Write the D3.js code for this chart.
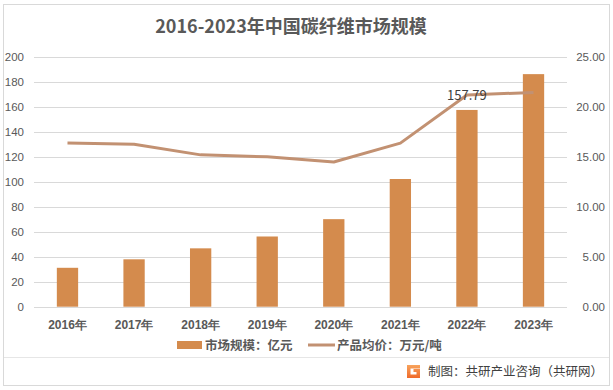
<!DOCTYPE html>
<html><head><meta charset="utf-8">
<script src="https://cdn.jsdelivr.net/npm/d3@7"></script>
<style>
html,body{margin:0;padding:0;background:#fff;}
svg{display:block;font-family:"Noto Sans CJK SC","Noto Sans",sans-serif;}
</style></head>
<body>
<svg id="c" width="613" height="390"></svg>
<script>
const title = "2016-2023年中国碳纤维市场规模";
const categories = ["2016年","2017年","2018年","2019年","2020年","2021年","2022年","2023年"];
const marketSize = [31.2, 38.0, 46.8, 56.3, 70.2, 102.4, 157.79, 186.5];
const avgPrice = [16.4, 16.28, 15.22, 15.02, 14.5, 16.4, 21.22, 21.48];
const leftTicks = [0,20,40,60,80,100,120,140,160,180,200];
const rightTicks = [0,5,10,15,20,25];
const seriesNames = ["市场规模：亿元","产品均价：万元/吨"];
const labelIndex = 6;
const footerText = "制图：共研产业咨询（共研网）";

const svg = d3.select("#c");
const barColor = "#D48B4D", lineColor = "#C29172", gridColor = "#D9D9D9", textColor = "#595959";

// outer frame
svg.append("rect").attr("x",3.5).attr("y",4.5).attr("width",606).attr("height",381)
  .attr("fill","#fff").attr("stroke","#D9D9D9").attr("stroke-width",1);
svg.append("line").attr("x1",4).attr("x2",609).attr("y1",357.5).attr("y2",357.5)
  .attr("stroke","#E6E6E6").attr("stroke-width",1);

svg.append("text").attr("x",291).attr("y",33).attr("text-anchor","middle")
  .attr("font-size",18).attr("font-weight","bold").attr("fill",textColor).text(title);

const x = d3.scaleBand().domain(categories).range([34.2,566.8]).paddingInner(0.68).paddingOuter(0.34);
const yL = d3.scaleLinear().domain([0,200]).range([306.7,57.3]);
const yR = d3.scaleLinear().domain([0,25]).range([306.7,57.3]);

// grid
svg.append("g").selectAll("line").data(leftTicks).join("line")
  .attr("x1",34).attr("x2",567).attr("y1",d=>Math.round(yL(d))+0.5).attr("y2",d=>Math.round(yL(d))+0.5)
  .attr("stroke",gridColor).attr("stroke-width",1);

// left axis
const gl = svg.append("g").attr("transform","translate(24,0)")
  .call(d3.axisLeft(yL).tickValues(leftTicks).tickSize(0).tickPadding(0).tickFormat(d3.format("d")));
gl.select(".domain").remove();
gl.selectAll("text").attr("font-size",11.5).attr("fill",textColor).attr("font-family","Liberation Sans, sans-serif");

// right axis
const gr = svg.append("g").attr("transform","translate(605,0)")
  .call(d3.axisLeft(yR).tickValues(rightTicks).tickSize(0).tickPadding(0).tickFormat(d3.format(".2f")));
gr.select(".domain").remove();
gr.selectAll("text").attr("font-size",11.5).attr("fill",textColor).attr("font-family","Liberation Sans, sans-serif");

// x axis
const gx = svg.append("g").attr("transform","translate(0,318)")
  .call(d3.axisBottom(x).tickSize(0).tickPadding(0));
gx.select(".domain").remove();
gx.selectAll("text").attr("font-size",12).attr("font-weight","bold").attr("fill",textColor).attr("dy","0.9em");

// bars
svg.append("g").selectAll("rect").data(marketSize).join("rect")
  .attr("x",(d,i)=>x(categories[i])).attr("width",x.bandwidth())
  .attr("y",d=>yL(d)).attr("height",d=>yL(0)-yL(d)).attr("fill",barColor);

// line
const line = d3.line().x((d,i)=>x(categories[i])+x.bandwidth()/2).y(d=>yR(d));
svg.append("path").datum(avgPrice).attr("d",line).attr("fill","none")
  .attr("stroke",lineColor).attr("stroke-width",3).attr("stroke-linejoin","round");

// data label
svg.append("text").attr("x",x(categories[labelIndex])+x.bandwidth()/2).attr("y",yR(avgPrice[labelIndex])+5)
  .attr("text-anchor","middle").attr("font-size",13).attr("fill","#404040").text(d3.format(".2f")(marketSize[labelIndex]));

// legend
const lg = svg.append("g");
lg.append("rect").attr("x",177).attr("y",341).attr("width",25).attr("height",8).attr("fill",barColor);
lg.append("text").attr("x",205).attr("y",350).attr("font-size",12.5).attr("font-weight","bold").attr("fill",textColor).text(seriesNames[0]);
lg.append("line").attr("x1",308).attr("x2",335).attr("y1",345).attr("y2",345).attr("stroke",lineColor).attr("stroke-width",3);
lg.append("text").attr("x",337).attr("y",350).attr("font-size",12.5).attr("font-weight","bold").attr("fill",textColor).text(seriesNames[1]);

// footer logo
const defs = svg.append("defs");
const grad = defs.append("linearGradient").attr("id","lg").attr("x1","0").attr("y1","0").attr("x2","0").attr("y2","1");
grad.append("stop").attr("offset","0").attr("stop-color","#F7A35C");
grad.append("stop").attr("offset","1").attr("stop-color","#F06A2A");
svg.append("path").attr("d","M407,365 h13 v3.5 h-9.5 v6 h6 v-2.5 h-3 v-3 h6.5 v9 h-13 z").attr("fill","url(#lg)");
svg.append("text").attr("x",428).attr("y",376).attr("font-size",12.5).attr("fill","#404040").text(footerText);
</script>
</body></html>
